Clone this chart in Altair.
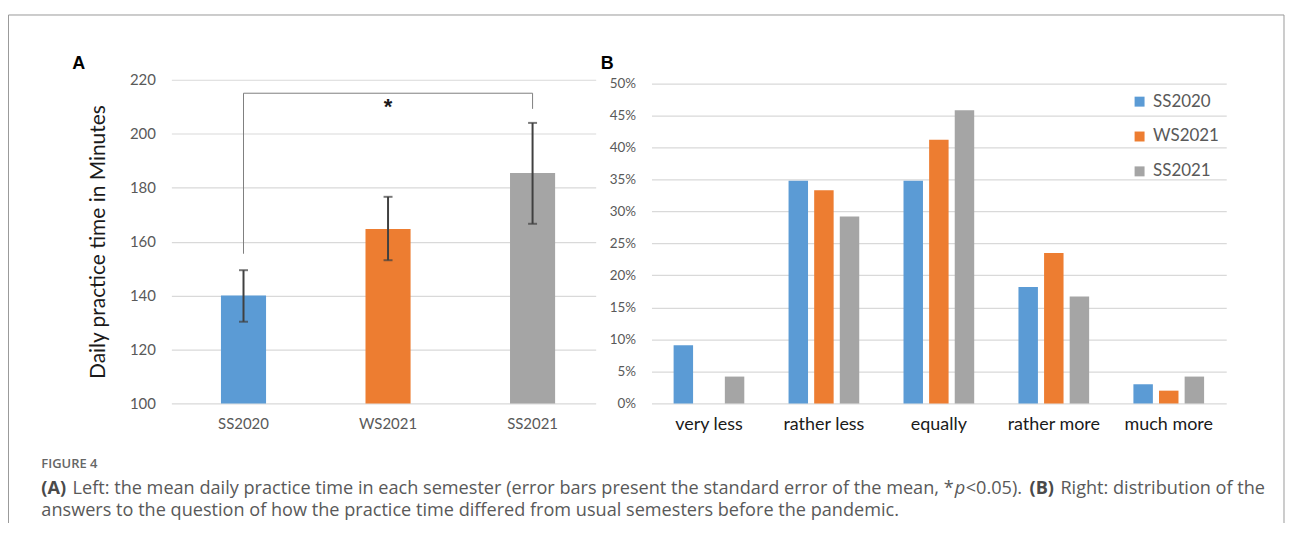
import altair as alt
import pandas as pd

# ---------------- data ----------------
semesters = ["SS2020", "WS2021", "SS2021"]
mean_minutes = [140.0, 164.7, 185.4]
se_low = [130.3, 153.1, 166.6]
se_high = [149.4, 176.6, 204.0]
colors = ["#5B9BD5", "#ED7D31", "#A5A5A5"]

bracket_from = "SS2020"
bracket_to = "SS2021"
bracket_top = 215.0
bracket_leg_bottom = [155.5, 209.2]
star_value = 210.0

categories = ["very less", "rather less", "equally", "rather more", "much more"]
pct_ss2020 = [9.1, 34.8, 34.8, 18.2, 3.0]
pct_ws2021 = [0.0, 33.3, 41.2, 23.5, 2.0]
pct_ss2021 = [4.2, 29.2, 45.8, 16.7, 4.2]

a_ticks = [100, 120, 140, 160, 180, 200, 220]
b_ticks = [0, 0.05, 0.10, 0.15, 0.20, 0.25, 0.30, 0.35, 0.40, 0.45, 0.50]

y_title = "Daily practice time in Minutes"
fig_label = "FIGURE 4"
cap_A = "(A)"
cap_1 = "Left: the mean daily practice time in each semester (error bars present the standard error of the mean, *"
cap_p = "p"
cap_2 = "<0.05)."
cap_B = "(B)"
cap_3 = "Right: distribution of the"
cap_line2 = "answers to the question of how the practice time differed from usual semesters before the pandemic."

FONT = "Lato"
CAP_FONT = "Open Sans"
CAP_SIZE = 18.2

# ---------------- tables ----------------
df_a = pd.DataFrame({"semester": semesters, "mean": mean_minutes,
                     "lo": se_low, "hi": se_high})
df_legs = pd.DataFrame({"semester": [bracket_from, bracket_to],
                        "bottom": bracket_leg_bottom,
                        "top": [bracket_top, bracket_top]})
df_top = pd.DataFrame({"from": [bracket_from], "to": [bracket_to], "top": [bracket_top]})
df_star = pd.DataFrame({"semester": ["WS2021"], "y": [star_value], "t": ["*"]})

rows = []
for s, vals in zip(semesters, [pct_ss2020, pct_ws2021, pct_ss2021]):
    for c, v in zip(categories, vals):
        rows.append({"category": c, "series": s, "value": v / 100.0})
df_b = pd.DataFrame(rows)

one = pd.DataFrame({"k": [0]})

# ---------------- panel A ----------------
xa_scale = alt.Scale(domain=semesters, paddingInner=0.688, paddingOuter=0.312, align=0.55)
xa = alt.X("semester:N", scale=xa_scale, sort=None,
           axis=alt.Axis(title=None, labelAngle=0, labelFont=FONT, labelFontSize=15,
                         labelColor="#595959", labelPadding=13, domain=False, ticks=False))
ya_scale = alt.Scale(domain=[100, 220], nice=False, zero=False)

bars_a = alt.Chart(df_a).mark_bar().encode(
    x=xa,
    y=alt.Y("mean:Q", scale=ya_scale,
            axis=alt.Axis(values=a_ticks, grid=True, gridColor="#D9D9D9", gridWidth=1.2,
                          domain=False, ticks=False, labelFont=FONT, labelFontSize=15,
                          labelColor="#595959", labelPadding=16,
                          title=y_title, titleFont=FONT, titleFontSize=21,
                          titleFontWeight="normal", titleColor="#1a1a1a", titlePadding=21)),
    y2=alt.datum(100),
    color=alt.Color("semester:N", scale=alt.Scale(domain=semesters, range=colors), legend=None),
)

def xs(field):
    return alt.X(field, scale=xa_scale, sort=None)

err = alt.Chart(df_a).mark_rule(color="#404040", strokeWidth=2).encode(
    x=xs("semester:N"),
    y=alt.Y("lo:Q", scale=ya_scale, title=y_title), y2="hi:Q")
cap_hi = alt.Chart(df_a).mark_tick(color="#404040", thickness=2, size=9).encode(
    x=xs("semester:N"), y=alt.Y("hi:Q", scale=ya_scale, title=y_title))
cap_lo = alt.Chart(df_a).mark_tick(color="#404040", thickness=2, size=9).encode(
    x=xs("semester:N"), y=alt.Y("lo:Q", scale=ya_scale, title=y_title))

legs = alt.Chart(df_legs).mark_rule(color="#7f7f7f", strokeWidth=1).encode(
    x=xs("semester:N"),
    y=alt.Y("bottom:Q", scale=ya_scale, title=y_title), y2="top:Q")
topline = alt.Chart(df_top).mark_rule(color="#7f7f7f", strokeWidth=1).encode(
    x=xs("from:N"), x2="to:N",
    y=alt.Y("top:Q", scale=ya_scale, title=y_title))
star = alt.Chart(df_star).mark_text(font="Liberation Sans", fontSize=22, fontWeight="bold",
                                    color="#1a1a1a", baseline="middle").encode(
    x=xs("semester:N"),
    y=alt.Y("y:Q", scale=ya_scale, title=y_title), text="t:N")

letter_a = alt.Chart(one).mark_text(text="A", font="Liberation Sans", fontSize=18,
                                    fontWeight="bold", color="#000", align="left",
                                    baseline="alphabetic").encode(
    x=alt.value(-99.5), y=alt.value(-10.5))

# frame (decoration)
frame_left = alt.Chart(one).mark_rule(color="#9a9a9a", strokeWidth=1).encode(
    x=alt.value(-163.5), y=alt.value(-65), y2=alt.value(445))
frame_top = alt.Chart(one).mark_rule(color="#9a9a9a", strokeWidth=1).encode(
    x=alt.value(-163.5), x2=alt.value(1117), y=alt.value(-65))
frame_right = alt.Chart(one).mark_rule(color="#9a9a9a", strokeWidth=1).encode(
    x=alt.value(1117), y=alt.value(-65), y2=alt.value(445))

def cap_text(txt, x, y, size=CAP_SIZE, weight="normal", style="normal", color="#595959", font=CAP_FONT):
    return alt.Chart(one).mark_text(text=txt, font=font, fontSize=size, fontWeight=weight,
                                    fontStyle=style, color=color, align="left",
                                    baseline="alphabetic").encode(
        x=alt.value(x), y=alt.value(y))

ox = 171.5
captions = [
    cap_text(fig_label, 41 - ox, 389.5, size=13, weight=600, color="#666666"),
    cap_text(cap_A, 41 - ox, 415.5, weight="bold", color="#4a4a4a"),
    cap_text(cap_1, 72.3 - ox, 415.5),
    cap_text(cap_p, 958 - ox, 415.5, style="italic"),
    cap_text(cap_2, 969 - ox, 415.5),
    cap_text(cap_B, 1033 - ox, 415.5, weight="bold", color="#4a4a4a"),
    cap_text(cap_3, 1064 - ox, 415.5),
    cap_text(cap_line2, 41 - ox, 437.5),
]

panel_a = alt.layer(bars_a, err, cap_hi, cap_lo, legs, topline, star, letter_a,
                    frame_left, frame_top, frame_right, *captions).properties(width=426, height=325)

# ---------------- panel B ----------------
bars_b = alt.Chart(df_b).mark_bar().encode(
    x=alt.X("category:N", sort=categories,
            scale=alt.Scale(paddingInner=0.385, paddingOuter=0.1925),
            axis=alt.Axis(title=None, labelAngle=0, labelFont=FONT, labelFontSize=18,
                          labelColor="#1a1a1a", labelPadding=12, domain=False, ticks=False)),
    xOffset=alt.XOffset("series:N", sort=semesters,
                        scale=alt.Scale(paddingInner=0.24, paddingOuter=0)),
    y=alt.Y("value:Q", scale=alt.Scale(domain=[0, 0.5057], nice=False),
            axis=alt.Axis(values=b_ticks, format=".0%", grid=True, gridColor="#D9D9D9",
                          gridWidth=1.2, domain=False, ticks=False, labelFont=FONT,
                          labelFontSize=13.5, labelColor="#595959", labelPadding=16, title=None)),
    color=alt.Color("series:N", sort=semesters,
                    scale=alt.Scale(domain=semesters, range=colors),
                    legend=alt.Legend(title=None, orient="none", legendX=481.5, legendY=13.5,
                                      symbolType="square", symbolSize=100, symbolStrokeWidth=0,
                                      labelFont=FONT, labelFontSize=17, labelColor="#595959",
                                      labelOffset=5, rowPadding=17)),
)
letter_b = alt.Chart(one).mark_text(text="B", font="Liberation Sans", fontSize=18,
                                    fontWeight="bold", color="#000", align="left",
                                    baseline="alphabetic").encode(
    x=alt.value(-51), y=alt.value(-10.5))

panel_b = alt.layer(bars_b, letter_b).properties(width=577, height=325)

chart = alt.hconcat(panel_a, panel_b, spacing=56, bounds="flush").resolve_scale(
    color="independent"
).properties(
    padding={"left": 0, "top": 5, "right": 0, "bottom": 0}
).configure(font=FONT).configure_view(
    strokeWidth=0, stroke="transparent"
).configure_axis(domain=False, ticks=False).configure_axisX(grid=False)

chart.save("out.html", embed_options={"renderer": "svg", "actions": False})
